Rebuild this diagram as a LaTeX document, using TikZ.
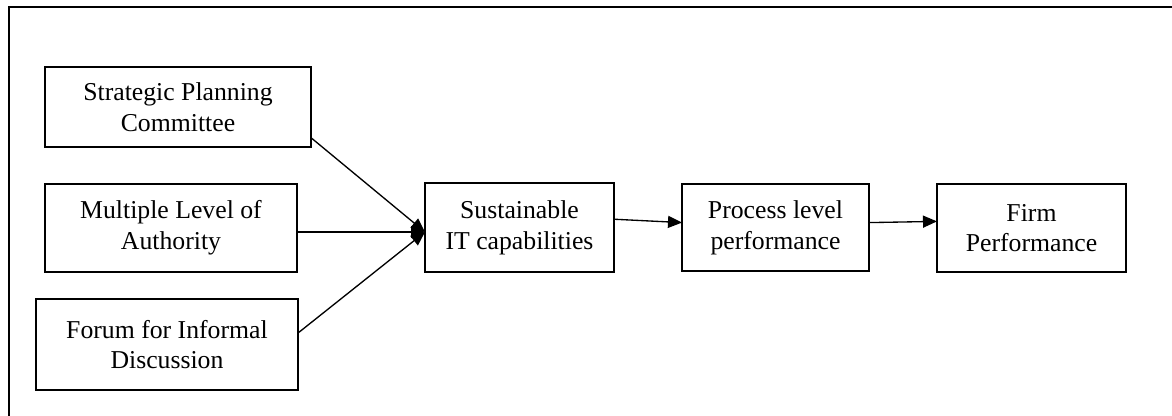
\documentclass[tikz,border=0pt]{standalone}
\usepackage{fontspec}
\setmainfont{Liberation Serif}
\usetikzlibrary{arrows.meta}

\begin{document}
\begin{tikzpicture}[x=0.75pt, y=-0.75pt,
    box/.style={draw, line width=0.9pt, inner sep=0pt, outer sep=0pt, align=center,
      font=\fontsize{19.3}{23}\selectfont},
    link/.style={line width=1pt, -{Triangle[length=10.5pt,width=9pt]}}]
        % Page size
        \useasboundingbox (0,0) rectangle (1172,416);

        % Frame (only top and left edges show)
        \draw[line width=1.5pt] (1172,7) -- (9,7) -- (9,416);

        % Structures on the left
        \node[box, minimum width=199.5pt, minimum height=60pt] (spc) at (178,107) {Strategic Planning\\Committee};
        \node[box, minimum width=189pt, minimum height=66pt] (mla) at (171,228) {Multiple Level of\\Authority};
        \node[box, minimum width=196.5pt, minimum height=68.25pt] (forum) at (167,344.5) {Forum for Informal\\Discussion};

        % Chain of outcomes
        \node[box, minimum width=141.75pt, minimum height=66.75pt] (sust) at (519.5,227.5) {Sustainable\\IT capabilities};
        \node[box, minimum width=140.25pt, minimum height=65.25pt] (proc) at (775.5,227.5) {Process level\\performance};
        \node[box, minimum width=141.75pt, minimum height=66pt] (firm) at (1031.5,228) {Firm\\Performance};

        % Arrows into the capabilities box
        \coordinate (join) at (425,232);
        \draw[link] (spc.-13) -- (join);
        \draw[link] (mla.east |- join) -- (join);
        \draw[link] (forum.5) -- (join);

        % Arrows along the chain
        \draw[link] (sust.5) -- (proc.177);
        \draw[link] (proc.3) -- (firm.176);

      \end{tikzpicture}
\end{document}
